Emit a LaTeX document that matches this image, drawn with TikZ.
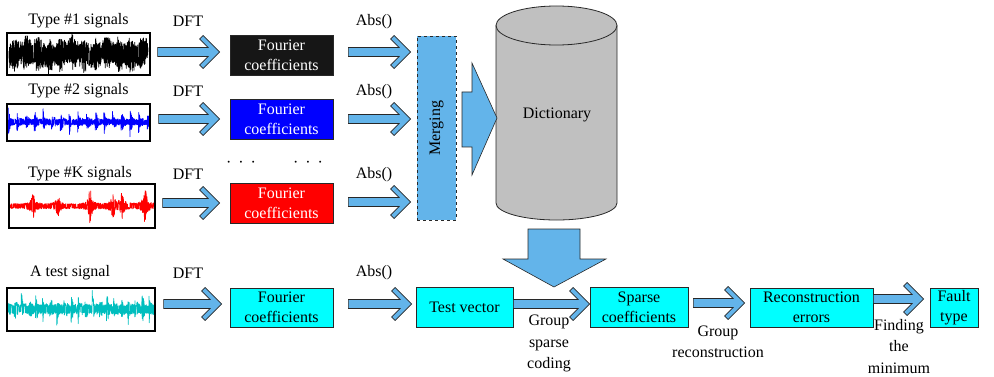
\documentclass[tikz,border=0pt]{standalone}
\usepackage{fontspec}
\setmainfont{Liberation Serif}
\newfontfamily\figfont{Liberation Serif}
\usetikzlibrary{calc}

\definecolor{arrowblue}{RGB}{99,180,234}
\definecolor{boxcyan}{RGB}{0,255,255}
\definecolor{boxblue}{RGB}{0,0,255}
\definecolor{boxred}{RGB}{255,0,0}
\definecolor{sigblue}{RGB}{0,0,255}
\definecolor{sigred}{RGB}{255,0,0}
\definecolor{sigcyan}{RGB}{0,190,190}
\definecolor{cylgray}{RGB}{192,192,192}
\definecolor{edgegray}{RGB}{40,40,40}
\definecolor{coefblack}{RGB}{22,22,22}

\tikzset{
  lbl/.style={font=\figfont\fontsize{16}{20}\selectfont, inner sep=0pt, align=center},
  steplbl/.style={font=\figfont\fontsize{16}{21.5}\selectfont, inner sep=0pt, align=center},
  panel/.style={draw=black, line width=1.2pt, inner sep=0pt},
  box/.style={draw=edgegray, line width=0.8pt, inner sep=0pt, align=center,
    font=\figfont\fontsize{16}{20}\selectfont},
  mergebox/.style={draw=edgegray, dashed, line width=0.7pt, fill=arrowblue, inner sep=0pt},
  chevarrow/.style={fill=arrowblue, draw=edgegray, line width=0.6pt, line join=miter},
  blockarrow/.style={fill=arrowblue, draw=edgegray, line width=0.6pt, line join=miter},
  wave/.style={line width=0.7pt, line join=round},
  tick/.style={line width=0.5pt},
}

% Open-headed block arrow: shaft from #1 to a thick chevron whose tip is at the x of #2
\newcommand\chev[2]{%
  \path[chevarrow] let \p1=#1, \p2=#2 in
    (\x1,\y1+4.5pt) -- (\x2-11.5pt,\y1+4.5pt) -- (\x2-20pt,\y1+13pt)
    -- (\x2-16.5pt,\y1+16.5pt) -- (\x2,\y1) -- (\x2-16.5pt,\y1-16.5pt)
    -- (\x2-20pt,\y1-13pt) -- (\x2-11.5pt,\y1-4.5pt) -- (\x1,\y1-4.5pt) -- cycle;}

% Inward tick marks on the frame of a signal panel
\newcommand\panelticks[1]{%
  \foreach \f in {0.125,0.25,0.375,0.5,0.625,0.75,0.875}{
    \draw[tick] ($(#1.north west)!\f!(#1.north east)$) -- ++(0,2);
    \draw[tick] ($(#1.south west)!\f!(#1.south east)$) -- ++(0,-2);}
  \foreach \f in {0.2,0.4,0.6,0.8}{
    \draw[tick] ($(#1.north west)!\f!(#1.south west)$) -- ++(2,0);
    \draw[tick] ($(#1.north east)!\f!(#1.south east)$) -- ++(-2,0);}}

% random sign, +1 or -1
\pgfmathdeclarefunction{rsign}{0}{\pgfmathparse{(rnd>0.5)*2-1}}

\begin{document}
\begin{tikzpicture}[x=1pt,y=-1pt]
\useasboundingbox (0,0) rectangle (994,377);
\pgfmathsetseed{7}

% ---------------- signal waveforms ----------------
\begin{scope}
  \clip (8,34) rectangle (149,74);
  \draw[wave, black] plot[samples=900, domain=9:148]
    (\x, {54 + 2*sin(\x*9) + rsign*(0.3+0.7*rnd)*(12 + 3*sin(\x*31) + 4*rnd)});
\end{scope}
\begin{scope}
  \clip (8,105) rectangle (149,141);
  \draw[wave, sigblue] plot[samples=800, domain=8:149]
    (\x, {122 + rsign*(0.3+0.7*rnd)*(2.8 + (10+4*sin(\x*53))*exp(-mod(\x-8,8.7)/1.8))});
\end{scope}
\begin{scope}
  \clip (10,185) rectangle (154,227);
  \draw[wave, sigred] plot[samples=800, domain=10:154]
    (\x, {206 + rsign*(0.3+0.7*rnd)*(2.4
      + 11/(1+((\x-33)/1.8)*((\x-33)/1.8)) + 8/(1+((\x-58)/1.8)*((\x-58)/1.8))
      + 18/(1+((\x-90)/1.4)*((\x-90)/1.4)) + 9/(1+((\x-113)/1.8)*((\x-113)/1.8))
      + 11/(1+((\x-122)/1.8)*((\x-122)/1.8)) + 15/(1+((\x-145)/1.8)*((\x-145)/1.8)))});
\end{scope}
\begin{scope}
  \clip (8,289) rectangle (154,330);
  \draw[wave, sigcyan] plot[samples=800, domain=8:154]
    (\x, {309 + rsign*(0.4+0.6*rnd)*(4.5 + (9+6*sin(\x*71))*exp(-mod(\x-7,7.1)/1.8))});
\end{scope}

% ---------------- signal panels ----------------
\node[panel, minimum width=143, minimum height=42] (sig1) at (78.5,54) {};
\node[panel, minimum width=143, minimum height=37] (sig2) at (78.5,122.5) {};
\node[panel, minimum width=146, minimum height=44] (sigK) at (82,206) {};
\node[panel, minimum width=148, minimum height=43] (sigT) at (81,309.5) {};
\panelticks{sig1}
\panelticks{sig2}
\panelticks{sigK}
\panelticks{sigT}

\node[lbl] (t1) at (78.5,21) {Type \#1 signals};
\node[lbl] (t2) at (78.5,91) {Type \#2 signals};
\node[lbl] (tK) at (80,174) {Type \#K signals};
\node[lbl] (tT) at (70,273) {A test signal};

\node[lbl] (dft1) at (188,21) {DFT};
\node[lbl] (dft2) at (188,91) {DFT};
\node[lbl] (dftK) at (188,174) {DFT};
\node[lbl] (dftT) at (188,273) {DFT};

% ---------------- Fourier coefficient boxes ----------------
\node[box, fill=coefblack, text=white, minimum width=103, minimum height=40] (f1) at (281.5,55) {Fourier\\coefficients};
\node[box, fill=boxblue, text=white, minimum width=103, minimum height=40] (f2) at (281.5,119) {Fourier\\coefficients};
\node[box, fill=boxred, text=white, minimum width=103, minimum height=40] (fK) at (281.5,203) {Fourier\\coefficients};
\node[box, fill=boxcyan, minimum width=103, minimum height=39] (fT) at (281.5,307.5) {Fourier\\coefficients};

\node[lbl] (dotsa) at (241,164) {·\hspace{7pt}·\hspace{7pt}·};
\node[lbl] (dotsb) at (308,164) {·\hspace{7pt}·\hspace{7pt}·};

\node[lbl] (abs1) at (374,22) {Abs()};
\node[lbl] (abs2) at (374,92) {Abs()};
\node[lbl] (absK) at (374,175) {Abs()};
\node[lbl] (absT) at (374,273) {Abs()};

% ---------------- merging and dictionary ----------------
\node[mergebox, minimum width=39, minimum height=184] (merge) at (436.5,128) {};
\node[lbl, rotate=90] (mergetxt) at (merge.center) {Merging};

\path[fill=cylgray, draw=edgegray, line width=0.8pt]
  (496,25.5) -- (496,203)
  arc[start angle=180, end angle=0, x radius=60.5, y radius=17]
  -- (617,25.5)
  arc[start angle=0, end angle=-180, x radius=60.5, y radius=19.5] -- cycle;
\draw[edgegray, line width=0.8pt] (496,25.5)
  arc[start angle=180, end angle=0, x radius=60.5, y radius=19.5];
\node[lbl] (dict) at (557,115) {Dictionary};

% merged atoms flow into the dictionary
\path[blockarrow] (462,92) -- (472,92) -- (472,63) -- (497,118)
  -- (472,175) -- (472,147) -- (462,147) -- cycle;
% dictionary feeds the sparse coding step
\path[blockarrow] (528,229) -- (580,229) -- (580,259) -- (606,259)
  -- (554,287) -- (503,259) -- (528,259) -- cycle;

% ---------------- test pipeline ----------------
\node[box, fill=boxcyan, minimum width=97, minimum height=40] (tv) at (464.5,307) {Test vector};
\node[box, fill=boxcyan, minimum width=98, minimum height=40] (sc) at (639,307) {Sparse\\coefficients};
\node[box, fill=boxcyan, minimum width=123, minimum height=39] (re) at (811.5,307.5) {Reconstruction\\errors};
\node[box, fill=boxcyan, minimum width=48, minimum height=39] (ft) at (954,307.5) {Fault\\type};

\node[steplbl] (gsc) at (549,343.5) {Group\\sparse\\coding};
\node[steplbl] (grc) at (718,342) {Group\\reconstruction};
\node[steplbl] (fmin) at (899,346.5) {Finding\\the\\minimum};

% ---------------- arrows ----------------
\chev{([xshift=7pt,yshift=2pt]sig1.east)}{([xshift=-10pt]f1.west)}
\chev{([xshift=8pt,yshift=3.5pt]sig2.east)}{([xshift=-10pt]f2.west)}
\chev{([xshift=7pt,yshift=3pt]sigK.east)}{([xshift=-10pt]fK.west)}
\chev{([xshift=8pt,yshift=5.5pt]sigT.east)}{([xshift=-8pt]fT.west)}

\chev{([xshift=15pt,yshift=3pt]f1.east)}{([xshift=-6pt]merge.west)}
\chev{([xshift=15pt]f2.east)}{([xshift=-6pt]merge.west)}
\chev{([xshift=15pt,yshift=1pt]fK.east)}{([xshift=-6pt]merge.west)}
\chev{([xshift=15pt,yshift=3.5pt]fT.east)}{([xshift=-4pt]tv.west)}

\chev{([yshift=3pt]tv.east)}{(sc.west)}
\chev{([xshift=5pt,yshift=4pt]sc.east)}{([xshift=-5pt]re.west)}
\chev{([yshift=8.5pt]re.east)}{([xshift=-6pt]ft.west)}

\end{tikzpicture}
\end{document}
